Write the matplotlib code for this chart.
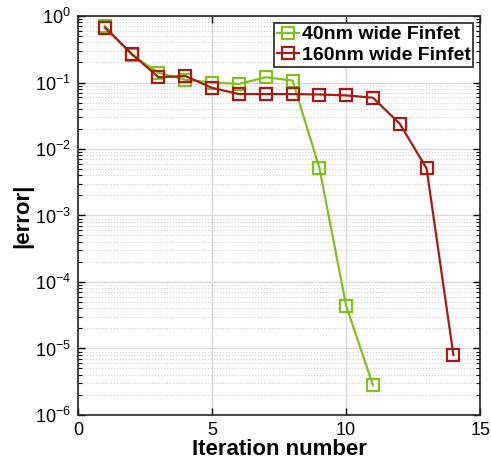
import matplotlib
matplotlib.use("Agg")
import matplotlib.pyplot as plt
from matplotlib.ticker import FixedLocator, NullFormatter, LogFormatterSciNotation

iters_40 = [1, 2, 3, 4, 5, 6, 7, 8, 9, 10, 11]
err_40 = [0.71, 0.26, 0.14, 0.11, 0.10, 0.095, 0.12, 0.107, 0.0052, 4.4e-5, 2.8e-6]
iters_160 = [1, 2, 3, 4, 5, 6, 7, 8, 9, 10, 11, 12, 13, 14]
err_160 = [0.67, 0.27, 0.12, 0.125, 0.083, 0.067, 0.067, 0.067, 0.066, 0.064, 0.059, 0.024, 0.0051, 8.0e-6]
labels = ["40nm wide Finfet", "160nm wide Finfet"]
xticks = [0, 5, 10, 15]
yticks = [1e-6, 1e-5, 1e-4, 1e-3, 1e-2, 1e-1, 1e0]

plt.rcParams['font.family'] = ['Liberation Sans', 'DejaVu Sans']
plt.rcParams['mathtext.fontset'] = 'custom'
plt.rcParams['mathtext.rm'] = 'Liberation Sans'
plt.rcParams['mathtext.it'] = 'Liberation Sans:italic'
plt.rcParams['mathtext.bf'] = 'Liberation Sans:bold'
plt.rcParams['mathtext.default'] = 'regular'

fig = plt.figure(figsize=(4.91, 4.71), dpi=100)
ax = fig.add_axes([0.159, 0.119, 0.819, 0.847])

green = '#80c020'
red = '#a51c14'
ax.plot(iters_40, err_40, '-s', color=green, lw=1.6, ms=8, mfc='none', mec=green, mew=1.6, label=labels[0])
ax.plot(iters_160, err_160, '-s', color=red, lw=1.6, ms=8, mfc='none', mec=red, mew=1.6, label=labels[1])

ax.set_yscale('log')
ax.set_ylim(yticks[0], yticks[-1])
ax.set_xlim(xticks[0], xticks[-1])
ax.set_xticks(xticks)
minor = [m * d for d in yticks[:-1] for m in range(2, 10)]
ax.yaxis.set_major_locator(FixedLocator(yticks))
ax.yaxis.set_major_formatter(LogFormatterSciNotation())
ax.yaxis.set_minor_locator(FixedLocator(minor))
ax.yaxis.set_minor_formatter(NullFormatter())

ax.grid(True, which='major', color='#d9d9d9', lw=1.0, ls='-')
ax.grid(True, which='minor', axis='y', color='#cfcfcf', lw=0.8, ls=':')
ax.set_axisbelow(True)

ax.tick_params(which='both', direction='in', top=True, right=True, labelsize=13)
ax.tick_params(which='major', length=5, width=1, pad=5)
ax.tick_params(which='minor', length=3, width=0.8)
for s in ax.spines.values():
    s.set_linewidth(1.2)
    s.set_color('#262626')

ax.set_xlabel('Iteration number', fontsize=16, fontweight='bold', labelpad=0)
ax.set_ylabel('|error|', fontsize=16, fontweight='bold', labelpad=1)

leg = ax.legend(loc='upper right', fontsize=14, frameon=True, fancybox=False,
                edgecolor='#262626', framealpha=1, handlelength=1.1, handletextpad=0.15,
                borderpad=0.15, labelspacing=0.15, borderaxespad=0.35)
leg.get_frame().set_linewidth(1.2)
for t in leg.get_texts():
    t.set_fontweight('bold')

fig.savefig('out.png', dpi=100)
